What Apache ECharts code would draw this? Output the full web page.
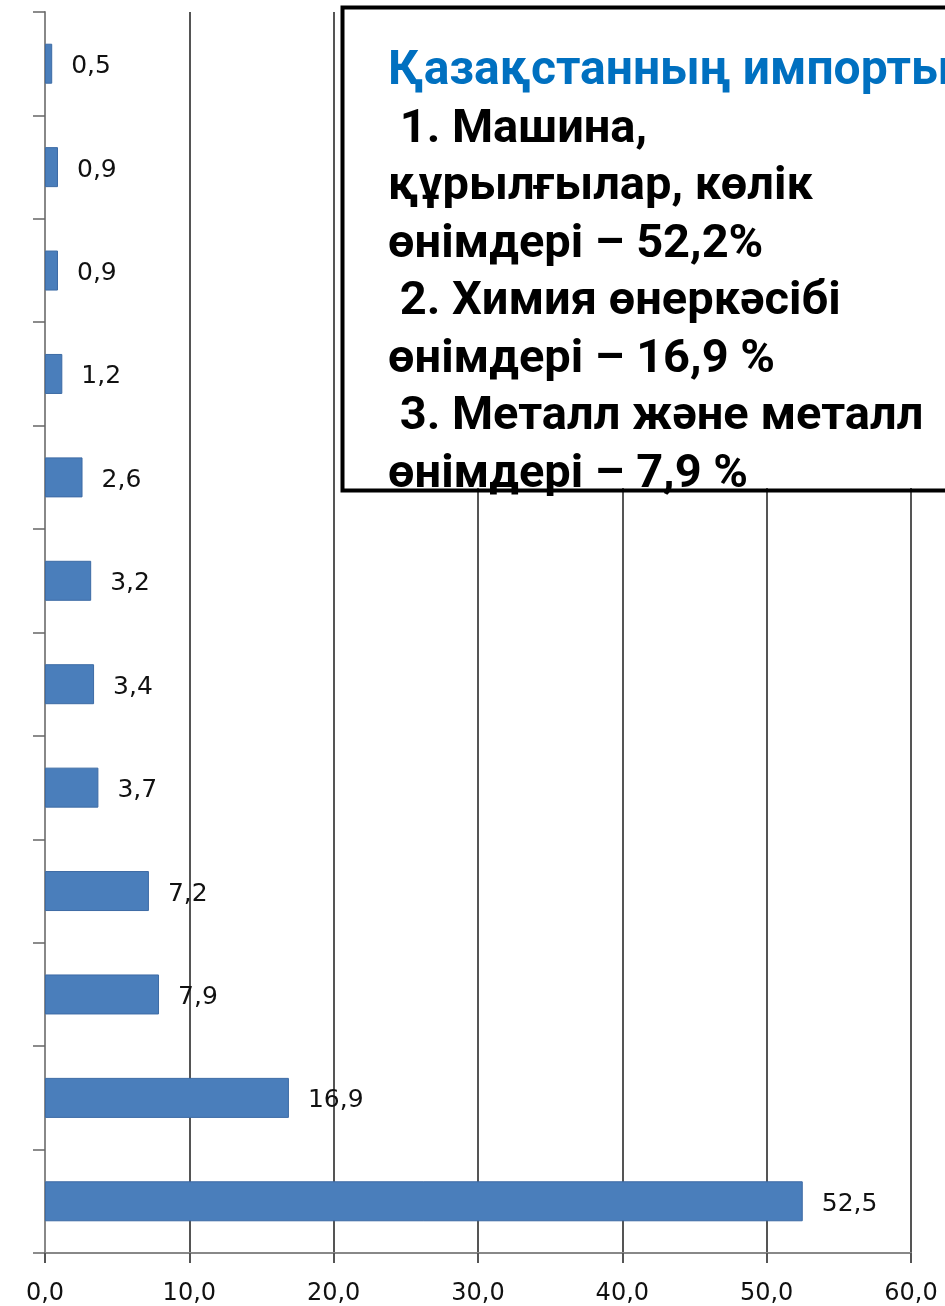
<!DOCTYPE html>
<html><head><meta charset="utf-8">
<script src="https://cdn.jsdelivr.net/npm/echarts@6/dist/echarts.min.js"></script>
<style>html,body{margin:0;padding:0;background:#fff}#c{width:945px;height:1306px}</style>
</head><body><div id="c"></div>
<script>
const categories = ['1','2','3','4','5','6','7','8','9','10','11','12'];
const values = [0.5, 0.9, 0.9, 1.2, 2.6, 3.2, 3.4, 3.7, 7.2, 7.9, 16.9, 52.5];
const xTicks = [0, 10, 20, 30, 40, 50, 60];
const boxTitle = 'Қазақстанның импорты';
const boxLines = [' 1. Машина,', 'құрылғылар, көлік', 'өнімдері – 52,2%', ' 2. Химия өнеркәсібі', 'өнімдері – 16,9 %', ' 3. Металл және металл', 'өнімдері – 7,9 %'];

const chart = echarts.init(document.getElementById('c'), null, {renderer:'canvas'});
const fmt = v => Number(v).toFixed(1).replace('.', ',');
const textFont = 'bold 47px Roboto';
const graphics = [
  {type:'rect', left:340, top:5, z:100, shape:{x:0,y:0,width:640,height:483}, style:{fill:'#fff', stroke:null}},
  {type:'text', x:388, y:72, z:101, style:{text:boxTitle, font:'bold 48px Roboto', fill:'#0070C0', textVerticalAlign:'middle'}}
];
boxLines.forEach((t,i)=>{
  graphics.push({type:'text', x:388, y:130 + 57.5*i, z:101, style:{text:t, font:textFont, fill:'#000', textVerticalAlign:'middle'}});
});
graphics.push({type:'rect', left:340, top:5, z:102, shape:{x:0,y:0,width:640,height:483}, style:{fill:null, stroke:'#000', lineWidth:4}});
chart.setOption({
  animation:false,
  grid:{left:45, right:34, top:12, bottom:51, containLabel:false},
  xAxis:{type:'value', min:xTicks[0], max:xTicks[xTicks.length-1], interval:10,
    axisLine:{show:true, lineStyle:{color:'#888', width:2}},
    axisTick:{show:true, length:10, lineStyle:{color:'#555', width:2}},
    axisLabel:{formatter:fmt, margin:29, color:'#111', fontFamily:'DejaVu Sans', fontSize:24},
    splitLine:{show:true, lineStyle:{color:'#555', width:2}}},
  yAxis:{type:'category', data:categories, inverse:true,
    axisLine:{show:true, lineStyle:{color:'#888', width:2}},
    axisTick:{show:true, length:12, lineStyle:{color:'#666', width:1.5}},
    axisLabel:{show:false}},
  series:[{type:'bar', data:values, barWidth:40,
    itemStyle:{color:'#4A7EBB', borderColor:'#3D6BA5', borderWidth:1},
    label:{show:true, position:'right', distance:19, offset:[0,3], formatter:p=>fmt(p.value), color:'#111', fontFamily:'DejaVu Sans', fontSize:25}}],
  graphic:graphics
});
</script></body></html>
